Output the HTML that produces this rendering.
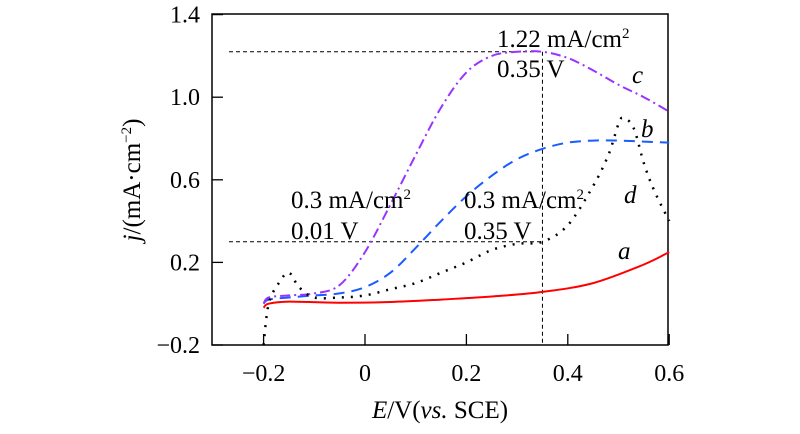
<!DOCTYPE html>
<html><head><meta charset="utf-8"><style>
body{margin:0;background:#fff}
svg{display:block}
</style></head><body>
<svg id="c" width="800" height="434" font-family="'Liberation Serif', 'Times New Roman', 'DejaVu Serif', serif"></svg>
<script>
const xTicks=[-0.2,0,0.2,0.4,0.6];
const yTicks=[-0.2,0.2,0.6,1.0,1.4];
const aX=[-0.2,-0.19,-0.15,-0.05,0.05,0.15,0.25,0.35,0.45,0.55,0.6];
const aY=[-0.02,0.0,0.01,0.005,0.008,0.02,0.035,0.057,0.1,0.19,0.25];
const bX=[-0.2,-0.19,-0.15,-0.1,-0.05,0,0.05,0.1,0.15,0.2,0.25,0.3,0.35,0.4,0.45,0.5,0.55,0.6];
const bY=[0.0,0.02,0.03,0.04,0.05,0.08,0.15,0.27,0.4,0.52,0.62,0.70,0.75,0.78,0.79,0.79,0.785,0.78];
const cX=[-0.2,-0.19,-0.15,-0.1,-0.05,0,0.05,0.1,0.15,0.2,0.25,0.3,0.35,0.4,0.45,0.5,0.55,0.6];
const cY=[0.0,0.03,0.04,0.05,0.09,0.25,0.48,0.72,0.95,1.12,1.2,1.22,1.22,1.19,1.13,1.06,1.0,0.93];
const dX=[-0.2,-0.19,-0.17,-0.15,-0.13,-0.1,-0.05,0,0.05,0.1,0.15,0.2,0.25,0.3,0.35,0.4,0.45,0.48,0.5,0.51,0.53,0.55,0.57,0.6];
const dY=[-0.2,0.0,0.1,0.15,0.08,0.03,0.03,0.04,0.07,0.10,0.15,0.2,0.26,0.29,0.30,0.38,0.57,0.72,0.87,0.90,0.85,0.68,0.55,0.40];
const X=v=>365+v*507, Y=j=>345-(j+0.2)*206.5;
const svg=document.getElementById('c');
const NS='http://www.w3.org/2000/svg';
const SERIF="'Liberation Serif', 'Times New Roman', serif";
function el(t,a,p){const e=document.createElementNS(NS,t);for(const k in a)e.setAttribute(k,a[k]);(p||svg).appendChild(e);return e;}
let e;
xTicks.forEach(v=>{
 e=el('line',{x1:X(v),x2:X(v),y1:345,y2:334,stroke:'#000','stroke-width':1.3});
 
 e=el('text',{x:X(v),y:381,'text-anchor':'middle','font-family':SERIF,'font-size':24});
 e.textContent=v===0?'0':(v<0?'\u2212':'')+Math.abs(v).toFixed(1);
 
});
yTicks.forEach(v=>{
 e=el('line',{x1:212,x2:223,y1:Y(v),y2:Y(v),stroke:'#000','stroke-width':1.3});
 
 e=el('text',{x:200,y:Y(v)+8,'text-anchor':'end','font-family':SERIF,'font-size':24});e.textContent=(v<0?'\u2212':'')+Math.abs(v).toFixed(1);
 
});
e=el('rect',{x:212,y:14,width:456,height:331,fill:'none',stroke:'#000','stroke-width':1.5});

[[229,Y(1.22),X(0.35),Y(1.22)],[X(0.35),Y(1.22),X(0.35),345],[229,Y(0.3),X(0.35),Y(0.3)]].forEach(g=>{
 e=el('line',{x1:g[0],y1:g[1],x2:g[2],y2:g[3],stroke:'#000','stroke-width':1,'stroke-dasharray':'4,3'});
 
});
function series(xs,ys,col,dash,name,w){
 const p=xs.map((x,i)=>[X(x),Y(ys[i])]);
 let d='M'+p[0][0].toFixed(1)+','+p[0][1].toFixed(1);
 for(let i=0;i<p.length-1;i++){
  const p0=p[Math.max(i-1,0)],p1=p[i],p2=p[i+1],p3=p[Math.min(i+2,p.length-1)];
  const c1=[p1[0]+(p2[0]-p0[0])/6,p1[1]+(p2[1]-p0[1])/6],c2=[p2[0]-(p3[0]-p1[0])/6,p2[1]-(p3[1]-p1[1])/6];
  d+='C'+c1.map(n=>n.toFixed(1))+' '+c2.map(n=>n.toFixed(1))+' '+p2.map(n=>n.toFixed(1));
 }
 e=el('path',{d:d,fill:'none',stroke:col,'stroke-width':w,'stroke-dasharray':dash,'stroke-linejoin':'round'});
 
}
series(aX,aY,'#f00','none','series-a',2);
series(bX,bY,'#1a5cff','11,7','series-b',2);
series(cX,cY,'#9933ff','10,4,2,4','series-c',2);
series(dX,dY,'#000','2,7','series-d',2.5);
function txt(x,y,s,name,italic){e=el('text',{x:x,y:y,'font-family':SERIF,'font-size':25});e.innerHTML=s;if(italic)e.setAttribute('font-style','italic');
 }
txt(497,47,'1.22 mA/cm<tspan dy="-9" font-size="15">2</tspan>','annotation-peak-current');
txt(497,77,'0.35 V','annotation-peak-potential');
txt(291,208,'0.3 mA/cm<tspan dy="-9" font-size="15">2</tspan>','annotation-c-current');
txt(291,239,'0.01 V','annotation-c-potential');
txt(464,208,'0.3 mA/cm<tspan dy="-9" font-size="15">2</tspan>','annotation-d-current');
txt(464,239,'0.35 V','annotation-d-potential');
txt(632,83,'c','label-c',1);txt(641,137,'b','label-b',1);txt(624,203,'d','label-d',1);txt(618,259,'a','label-a',1);
e=el('text',{x:440,y:418,'text-anchor':'middle','font-family':SERIF,'font-size':25});
e.innerHTML='<tspan font-style="italic">E</tspan>/V(<tspan font-style="italic">vs.</tspan> SCE)';

e=el('text',{x:0,y:0,'text-anchor':'middle','font-family':SERIF,'font-size':25,transform:'translate(140,180) rotate(-90)'});
e.innerHTML='<tspan font-style="italic">j</tspan>/(mA·cm<tspan dy="-9" font-size="15">−2</tspan><tspan dy="9">)</tspan>';

</script>
</body></html>
